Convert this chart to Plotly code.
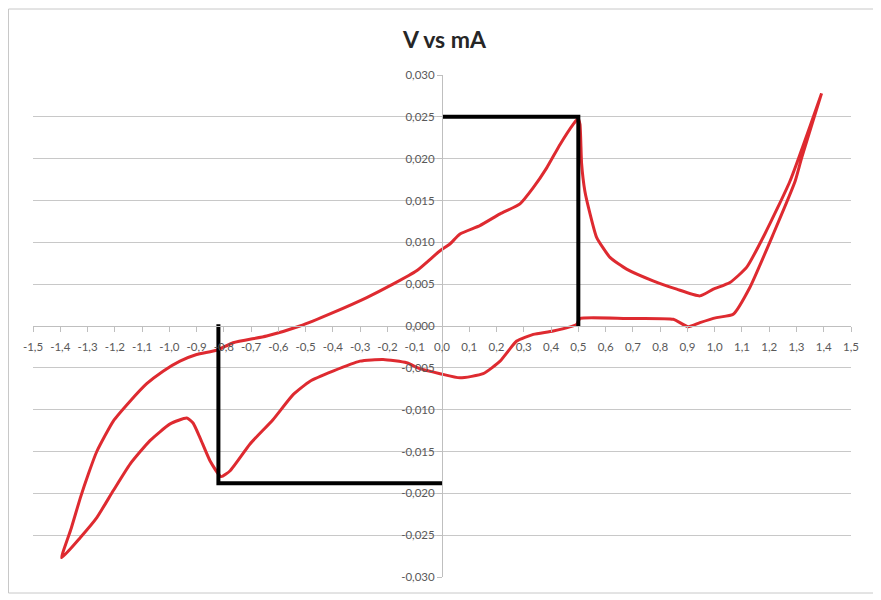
import plotly.graph_objects as go

# Forward (anodic) branch: potential (V) and current (mA)
x_fwd = [-1.395, -1.36, -1.327, -1.296, -1.266, -1.206, -1.144, -1.083, -1.023, -0.961, -0.900,
         -0.826, -0.766, -0.643, -0.521, -0.400, -0.276, -0.180, -0.093, -0.007, 0.029,
         0.066, 0.139, 0.213, 0.286, 0.334, 0.384, 0.433, 0.481, 0.499, 0.506,
         0.512, 0.524, 0.543, 0.567, 0.616, 0.677, 0.774, 0.861, 0.946, 0.995,
         1.056, 1.117, 1.184, 1.276, 1.392]
y_fwd = [-0.0277, -0.0242, -0.0206, -0.0176, -0.0150, -0.0114, -0.0090, -0.0069, -0.0054, -0.0042, -0.0034,
         -0.0029, -0.0020, -0.0012, 0.0000, 0.0016, 0.0034, 0.0050, 0.0066, 0.0090, 0.0098,
         0.0110, 0.0120, 0.0134, 0.0146, 0.0165, 0.0189, 0.0217, 0.0241, 0.0248, 0.0241,
         0.0194, 0.0161, 0.0134, 0.0106, 0.0082, 0.0068, 0.0054, 0.0044, 0.0036, 0.0044,
         0.0052, 0.0070, 0.0110, 0.0173, 0.0278]

# Reverse (cathodic) branch
x_rev = [1.392, 1.319, 1.295, 1.215, 1.129, 1.068, 1.007, 0.946, 0.903, 0.848, 0.677,
         0.506, 0.494, 0.408, 0.335, 0.274, 0.213, 0.151, 0.066, -0.007, -0.081,
         -0.130, -0.216, -0.301, -0.400, -0.484, -0.546, -0.620, -0.704, -0.777, -0.810,
         -0.851, -0.887, -0.913, -0.936, -0.997, -1.071, -1.144, -1.206, -1.266, -1.327,
         -1.395]
y_rev = [0.0278, 0.0201, 0.0173, 0.0110, 0.0046, 0.0014, 0.0010, 0.0004, -0.0001, 0.0008, 0.0009,
         0.0009, 0.0002, -0.0006, -0.0010, -0.0018, -0.0042, -0.0057, -0.0062, -0.0057, -0.0051,
         -0.0044, -0.0040, -0.0042, -0.0054, -0.0066, -0.0082, -0.0112, -0.0141, -0.0173, -0.0180,
         -0.0161, -0.0134, -0.0116, -0.0110, -0.0117, -0.0137, -0.0165, -0.0197, -0.0229, -0.0253,
         -0.0277]

# Peak marker lines
peak_ox_x = [0.0, 0.5, 0.5]
peak_ox_y = [0.025, 0.025, 0.0]
peak_red_x = [-0.82, -0.82, 0.0]
peak_red_y = [0.0002, -0.0188, -0.0188]

x_ticks = [-1.5, -1.4, -1.3, -1.2, -1.1, -1.0, -0.9, -0.8, -0.7, -0.6, -0.5, -0.4, -0.3, -0.2, -0.1,
           0.0, 0.1, 0.2, 0.3, 0.4, 0.5, 0.6, 0.7, 0.8, 0.9, 1.0, 1.1, 1.2, 1.3, 1.4, 1.5]
x_labels = ["-1,5", "-1,4", "-1,3", "-1,2", "-1,1", "-1,0", "-0,9", "-0,8", "-0,7", "-0,6", "-0,5",
            "-0,4", "-0,3", "-0,2", "-0,1", "0,0", "0,1", "0,2", "0,3", "0,4", "0,5", "0,6", "0,7",
            "0,8", "0,9", "1,0", "1,1", "1,2", "1,3", "1,4", "1,5"]
y_ticks = [0.030, 0.025, 0.020, 0.015, 0.010, 0.005, 0.0, -0.005, -0.010, -0.015, -0.020, -0.025, -0.030]
y_labels = ["0,030", "0,025", "0,020", "0,015", "0,010", "0,005", "0,000", "-0,005", "-0,010",
            "-0,015", "-0,020", "-0,025", "-0,030"]

OFF = 8  # page body margin
W, H = 881 - OFF, 600 - OFF
ML, MT = 33 - OFF, 75 - OFF
pw, ph = 818, 502
MR, MB = W - ML - pw, H - MT - ph

fig = go.Figure()
fig.add_trace(go.Scatter(x=x_fwd + x_rev, y=y_fwd + y_rev, mode="lines",
                         line=dict(color="#DE2A30", width=3, shape="spline", smoothing=0.5),
                         showlegend=False))
fig.add_trace(go.Scatter(x=peak_ox_x, y=peak_ox_y, mode="lines",
                         line=dict(color="black", width=4), showlegend=False))
fig.add_trace(go.Scatter(x=peak_red_x, y=peak_red_y, mode="lines",
                         line=dict(color="black", width=4), showlegend=False))

# chart-area border (page coords 8..876 x 9..593)
fig.add_shape(type="rect", xref="paper", yref="paper",
              x0=(0.5 - ML) / pw, x1=(868 - ML) / pw,
              y0=(H - MB - 585) / ph, y1=(H - MB - 1) / ph,
              line=dict(color="#c8c8c8", width=1), layer="below")

tickfont = dict(family="Lato, Open Sans, sans-serif", size=11.5, color="#595959")
fig.update_layout(
    width=W, height=H,
    margin=dict(l=ML, r=MR, t=MT, b=MB),
    paper_bgcolor="white", plot_bgcolor="white",
    title=dict(text="<b>V vs mA</b>", x=0.5, xanchor="center", y=1 - (40 - OFF) / H, yanchor="middle",
               font=dict(family="Lato, Open Sans, sans-serif", size=23, color="#262626")),
    xaxis=dict(range=[-1.5, 1.5], tickmode="array", tickvals=x_ticks, ticktext=x_labels,
               showgrid=False, zeroline=False, showline=True, linecolor="#bfbfbf", linewidth=1,
               ticks="outside", ticklen=5, tickcolor="#bfbfbf", anchor="free", position=0.5,
               tickfont=tickfont, ticklabelstandoff=5),
    yaxis=dict(range=[-0.03, 0.03], tickmode="array", tickvals=y_ticks, ticktext=y_labels,
               showgrid=True, gridcolor="#c8c8c8", gridwidth=1, zeroline=False,
               showline=True, linecolor="#bfbfbf", linewidth=1,
               ticks="outside", ticklen=5, tickcolor="#bfbfbf", anchor="free", position=0.5,
               tickfont=tickfont),
)

fig.write_html("out.html")
